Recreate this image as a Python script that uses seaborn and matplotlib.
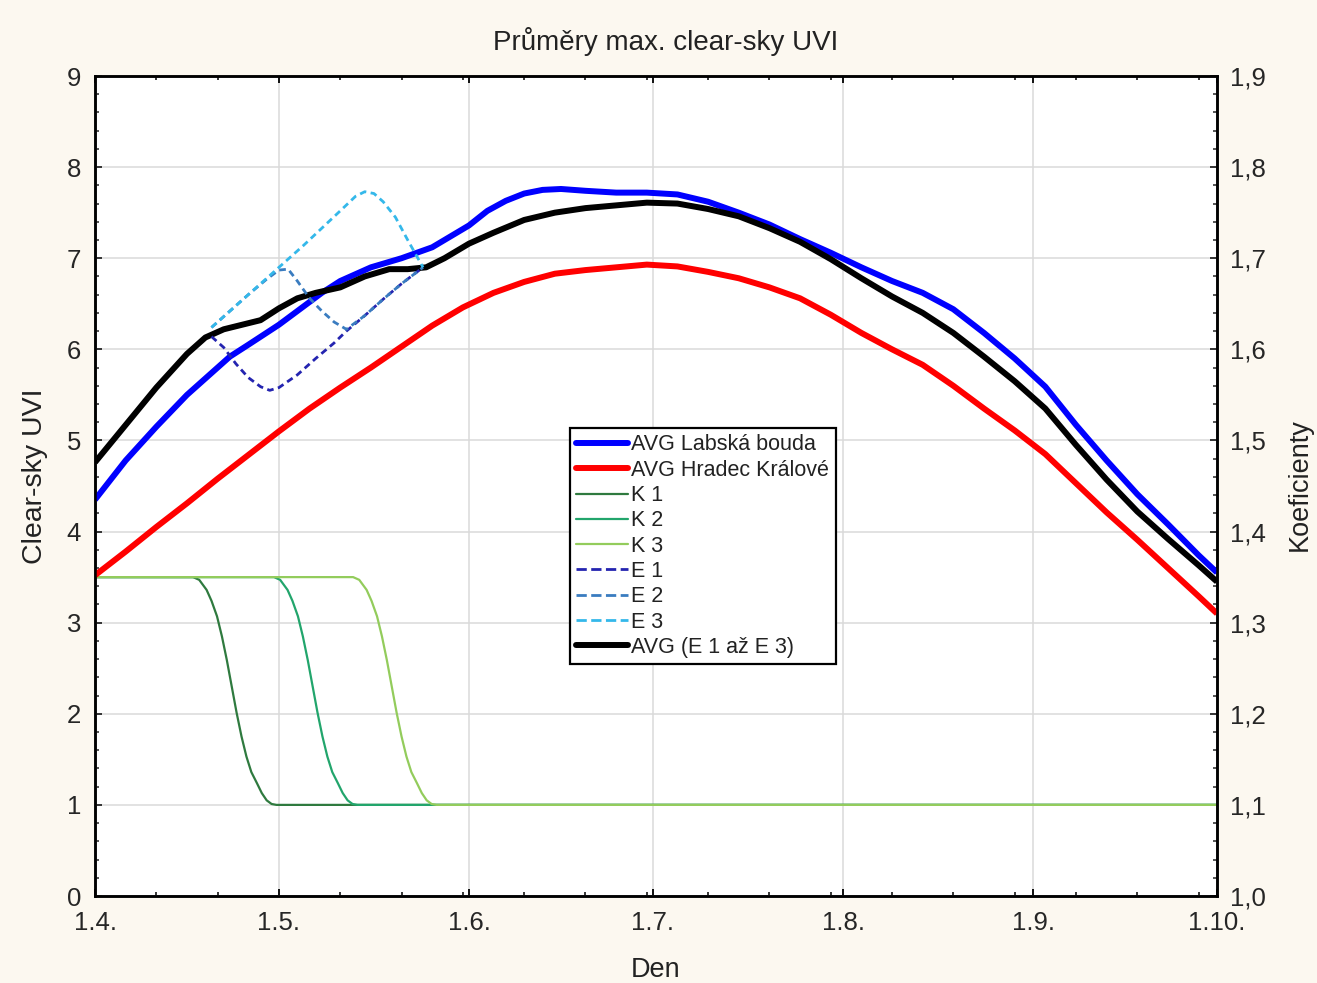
import matplotlib
matplotlib.use("Agg")
import matplotlib.pyplot as plt
import seaborn as sns
from matplotlib.ticker import AutoMinorLocator, FixedLocator, FixedFormatter
from matplotlib.lines import Line2D

# x values: days counted from 1 April
labska_day = [0, 5, 10, 15, 20, 22, 25, 30, 35, 37, 40, 45, 50, 55, 58, 61, 64, 67, 70,
              73, 76, 80, 85, 90, 95, 100, 105, 110, 115, 120, 125, 130, 135, 140, 145,
              150, 155, 160, 165, 170, 175, 180, 183]
labska_uvi = [4.35, 4.78, 5.15, 5.50, 5.80, 5.92, 6.05, 6.27, 6.52, 6.62, 6.75, 6.90,
              7.00, 7.12, 7.24, 7.36, 7.52, 7.63, 7.71, 7.75, 7.76, 7.74, 7.72, 7.72,
              7.70, 7.62, 7.50, 7.37, 7.21, 7.06, 6.90, 6.75, 6.62, 6.44, 6.18, 5.90,
              5.59, 5.17, 4.78, 4.41, 4.08, 3.74, 3.55]

hradec_day = [0, 5, 10, 15, 20, 25, 30, 35, 40, 45, 50, 55, 60, 65, 70, 75, 80, 85, 90,
              95, 100, 105, 110, 115, 120, 125, 130, 135, 140, 145, 150, 155, 160, 165,
              170, 175, 180, 183]
hradec_uvi = [3.52, 3.78, 4.05, 4.31, 4.58, 4.84, 5.10, 5.35, 5.58, 5.80, 6.03, 6.26,
              6.46, 6.62, 6.74, 6.83, 6.87, 6.90, 6.93, 6.91, 6.85, 6.78, 6.68, 6.56,
              6.38, 6.18, 6.00, 5.83, 5.60, 5.35, 5.11, 4.85, 4.53, 4.21, 3.91, 3.60,
              3.29, 3.10]

avg_e_day = [0, 5, 10, 15, 18, 21, 24, 27, 30, 33, 36, 40, 44, 48, 51, 54, 57, 61, 65,
             70, 75, 80, 85, 90, 95, 100, 105, 110, 115, 120, 125, 130, 135, 140, 145,
             150, 155, 160, 165, 170, 175, 180, 183]
avg_e_uvi = [4.76, 5.17, 5.58, 5.95, 6.13, 6.22, 6.27, 6.32, 6.45, 6.56, 6.62, 6.68,
             6.80, 6.88, 6.88, 6.90, 7.00, 7.16, 7.28, 7.42, 7.50, 7.55, 7.58, 7.61,
             7.60, 7.54, 7.46, 7.33, 7.18, 6.99, 6.78, 6.58, 6.40, 6.18, 5.92, 5.65,
             5.35, 4.95, 4.57, 4.22, 3.92, 3.63, 3.45]

e1_day = [19, 21, 23, 25, 27, 28.5, 30, 33, 36, 39, 41, 44, 47, 50, 53.5]
e1_uvi = [6.14, 6.02, 5.84, 5.69, 5.59, 5.55, 5.58, 5.72, 5.90, 6.07, 6.20, 6.37,
          6.55, 6.72, 6.90]
e2_day = [19, 22, 25, 28, 30, 31.5, 33, 35, 37, 39, 41, 44, 47, 50, 53.5]
e2_uvi = [6.24, 6.42, 6.60, 6.77, 6.87, 6.88, 6.75, 6.56, 6.42, 6.30, 6.22, 6.37,
          6.55, 6.72, 6.90]
e3_day = [19, 22, 25, 28, 31, 34, 37, 40, 42.5, 44, 45.5, 47, 49, 51, 53.5]
e3_uvi = [6.24, 6.42, 6.60, 6.78, 6.96, 7.14, 7.33, 7.52, 7.68, 7.73, 7.71, 7.62,
          7.45, 7.20, 6.90]

k1_day = [0, 16.0, 17.0, 18.2, 19.0, 19.9, 20.7, 21.5, 22.3, 23.1, 23.9, 24.7, 25.5,
          26.4, 27.2, 28.0, 28.8, 29.6, 183]
k2_day = [0, 29.2, 30.2, 31.4, 32.2, 33.1, 33.9, 34.7, 35.5, 36.3, 37.1, 37.9, 38.7,
          39.6, 40.4, 41.2, 42.0, 42.8, 183]
k3_day = [0, 42.1, 43.1, 44.3, 45.1, 46.0, 46.8, 47.6, 48.4, 49.2, 50.0, 50.8, 51.6,
          52.5, 53.3, 54.1, 54.9, 55.7, 183]
k_values = [1.35, 1.35, 1.347, 1.336, 1.324, 1.307, 1.285, 1.259, 1.230, 1.201, 1.175,
            1.153, 1.136, 1.124, 1.113, 1.105, 1.101, 1.10, 1.10]

month_days = [0, 30, 61, 91, 122, 153, 183]
month_labels = ["1.4.", "1.5.", "1.6.", "1.7.", "1.8.", "1.9.", "1.10."]
uvi_ticks = [0, 1, 2, 3, 4, 5, 6, 7, 8, 9]
coef_ticks = [1.0, 1.1, 1.2, 1.3, 1.4, 1.5, 1.6, 1.7, 1.8, 1.9]
coef_labels = ["1,0", "1,1", "1,2", "1,3", "1,4", "1,5", "1,6", "1,7", "1,8", "1,9"]

sns.set_style("white")
plt.rcParams["font.family"] = ["Liberation Sans", "DejaVu Sans"]

bg = "#fcf8f0"
fig = plt.figure(figsize=(13.17, 9.83), dpi=100, facecolor=bg)
# coefficient axis sits underneath, the UVI axis is drawn on top of it
axk = fig.add_axes([95 / 1317, 1 - 896 / 983, 1122 / 1317, 820 / 983])
ax = axk.twinx()
axk.set_facecolor("white")
ax.patch.set_visible(False)

k_colors = ["#2f7a3f", "#22a56c", "#93cc5c"]
for kd, col, name in zip([k1_day, k2_day, k3_day], k_colors, ["K 1", "K 2", "K 3"]):
    sns.lineplot(x=kd, y=k_values, ax=axk, color=col, lw=1.6, label=name, legend=False)

thick = dict(lw=4.3, solid_joinstyle="round", solid_capstyle="butt", legend=False)
sns.lineplot(x=labska_day, y=labska_uvi, ax=ax, color="#0000ff",
             label="AVG Labská bouda", **thick)
sns.lineplot(x=hradec_day, y=hradec_uvi, ax=ax, color="#ff0000",
             label="AVG Hradec Králové", **thick)
sns.lineplot(x=avg_e_day, y=avg_e_uvi, ax=ax, color="#000000",
             label="AVG (E 1 až E 3)", **thick)
e_colors = ["#2424b0", "#3a7cc0", "#34b8ea"]
for ed, ev, col, name in zip([e1_day, e2_day, e3_day], [e1_uvi, e2_uvi, e3_uvi],
                             e_colors, ["E 1", "E 2", "E 3"]):
    sns.lineplot(x=ed, y=ev, ax=ax, color=col, lw=2.0, linestyle=(0, (2.4, 1.6)),
                 label=name, legend=False)

# axes ranges and ticks
axk.set_xlim(0, 183)
axk.set_ylim(1.0, 1.9)
ax.set_ylim(0, 9)
axk.xaxis.set_major_locator(FixedLocator(month_days))
axk.xaxis.set_major_formatter(FixedFormatter(month_labels))
axk.xaxis.set_minor_locator(AutoMinorLocator(3))
axk.yaxis.set_major_locator(FixedLocator(coef_ticks))
axk.yaxis.set_major_formatter(FixedFormatter(coef_labels))
axk.yaxis.set_minor_locator(AutoMinorLocator(5))
ax.yaxis.set_major_locator(FixedLocator(uvi_ticks))
ax.yaxis.set_minor_locator(AutoMinorLocator(5))

# UVI on the left, coefficients on the right
ax.yaxis.tick_left()
axk.yaxis.tick_right()
axk.grid(True, which="major", color="#dadada", lw=1.1)
axk.set_axisbelow(True)

tick_font = 18.5
axk.tick_params(axis="x", which="both", direction="in", top=True, bottom=True,
                labelsize=tick_font, pad=11, color="black")
axk.tick_params(axis="x", which="major", length=5, width=1.3)
axk.tick_params(axis="x", which="minor", length=3, width=1.1)
axk.tick_params(axis="y", which="both", direction="in", right=True, left=False,
                labelright=True, labelleft=False, labelsize=tick_font, pad=9)
axk.tick_params(axis="y", which="major", length=5, width=1.3)
axk.tick_params(axis="y", which="minor", length=3, width=1.1)
ax.tick_params(axis="y", which="both", direction="in", left=True, right=False,
               labelleft=True, labelright=False, labelsize=tick_font, pad=10)
ax.tick_params(axis="y", which="major", length=5, width=1.3)
ax.tick_params(axis="y", which="minor", length=3, width=1.1)
ax.set_xlabel("")
ax.set_ylabel("")
axk.set_xlabel("")
axk.set_ylabel("")

for a in (ax, axk):
    for sp in a.spines.values():
        sp.set_visible(True)
        sp.set_color("black")
        sp.set_linewidth(1.8)

# titles and axis names
fig.text(666 / 1317, 1 - 42 / 983, "Průměry max. clear-sky UVI", ha="center",
         va="center", fontsize=20, color="#222222")
fig.text(35 / 1317, 1 - 476 / 983, "Clear-sky UVI", ha="center", va="center",
         rotation=90, fontsize=20.5, color="#222222")
fig.text(1300 / 1317, 1 - 485 / 983, "Koeficienty", ha="center", va="center",
         rotation=90, fontsize=19.5, color="#222222")
fig.text(656 / 1317, 1 - 970 / 983, "Den", ha="center", va="center",
         fontsize=19.5, color="#222222")

# legend in series order
handles = {}
for a in (ax, axk):
    for ln in a.get_lines():
        handles[ln.get_label()] = ln
order = ["AVG Labská bouda", "AVG Hradec Králové", "K 1", "K 2", "K 3",
         "E 1", "E 2", "E 3", "AVG (E 1 až E 3)"]
leg_handles = []
for name in order:
    ln = handles[name]
    leg_handles.append(Line2D([], [], color=ln.get_color(), lw=ln.get_linewidth(),
                              linestyle=ln.get_linestyle()))
leg = ax.legend(leg_handles, order, loc="upper left",
                bbox_to_anchor=((570 - 95) / 1122, (896 - 428) / 820),
                borderaxespad=0, fontsize=15.5, frameon=True, fancybox=False,
                edgecolor="black", facecolor="white", framealpha=1,
                handlelength=2.4, handletextpad=0.15, labelspacing=0.2,
                borderpad=0.3)
leg.get_frame().set_linewidth(1.6)
for t in leg.get_texts():
    t.set_color("#222222")

fig.savefig("out.png", dpi=100, facecolor=bg)
